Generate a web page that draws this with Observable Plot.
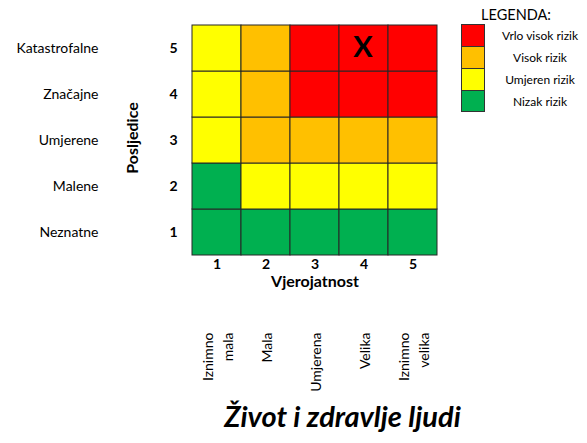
<!DOCTYPE html>
<html><head><meta charset="utf-8">
<script src="https://cdn.jsdelivr.net/npm/d3@7"></script>
<script src="https://cdn.jsdelivr.net/npm/@observablehq/plot@0.6"></script>
<style>
body{margin:0;background:#fff;font-family:Lato,"Open Sans",sans-serif;}
#wrap{position:relative;width:587px;height:443px;overflow:hidden;}
#legend{position:absolute;left:0;top:0;width:587px;height:130px;pointer-events:none;}
.lg-title{position:absolute;left:516px;top:14px;transform:translate(-50%,-50%);font-size:14.5px;color:#000;white-space:nowrap;}
.lg-sw{position:absolute;left:461px;width:24px;height:22px;border:1px solid #333;box-sizing:border-box;}
.lg-lab{position:absolute;left:540px;transform:translate(-50%,-50%);font-size:12px;color:#000;white-space:nowrap;}
</style></head><body><div id="wrap"><div id="legend"></div></div>
<script>
// Data
const likelihood = [1, 2, 3, 4, 5];
const likelihoodLabels = ["Iznimno\nmala", "Mala", "Umjerena", "Velika", "Iznimno\nvelika"];
const consequence = [1, 2, 3, 4, 5];
const consequenceLabels = ["Neznatne", "Malene", "Umjerene", "Značajne", "Katastrofalne"];
const riskLevels = ["Vrlo visok rizik", "Visok rizik", "Umjeren rizik", "Nizak rizik"];
const riskColors = ["#FF0000", "#FFC000", "#FFFF00", "#00B050"];
// risk level index (into riskLevels) for each consequence row 1..5, likelihood columns 1..5
const riskRow1 = [3, 3, 3, 3, 3];
const riskRow2 = [3, 2, 2, 2, 2];
const riskRow3 = [2, 1, 1, 1, 1];
const riskRow4 = [2, 1, 0, 0, 0];
const riskRow5 = [2, 1, 0, 0, 0];
const markerLikelihood = 4;
const markerConsequence = 5;
const xTitle = "Vjerojatnost";
const yTitle = "Posljedice";
const chartTitle = "Život i zdravlje ljudi";
const legendTitle = "LEGENDA:";

const riskRows = [riskRow1, riskRow2, riskRow3, riskRow4, riskRow5];
const cells = consequence.flatMap((c, ci) =>
  likelihood.map((l, li) => ({x: l, y: c, level: riskLevels[riskRows[ci][li]]})));

const chart = Plot.plot({
  width: 587,
  height: 443,
  marginLeft: 191,
  marginRight: 149,
  marginTop: 24,
  marginBottom: 188,
  style: {fontFamily: "Lato, 'Open Sans', sans-serif", color: "#000", background: "#fff", overflow: "visible"},
  x: {type: "band", domain: likelihood, padding: 0, axis: null},
  y: {type: "band", domain: [...consequence].reverse(), padding: 0, axis: null},
  color: {domain: riskLevels, range: riskColors},
  marks: [
    Plot.cell(cells, {x: "x", y: "y", fill: "level", stroke: "#262626", strokeWidth: 1, inset: 0}),
    Plot.text([{x: markerLikelihood, y: markerConsequence}], {x: "x", y: "y", text: () => "X", dx: -1, dy: -1, fontSize: 29, fontWeight: "bold", fill: "#000"}),
    // x tick labels
    Plot.text(likelihood, {x: d => d, text: d => String(d), frameAnchor: "bottom", textAnchor: "middle", dy: 13, fontSize: 14, fontWeight: "bold", fill: "#000"}),
    Plot.text([xTitle], {text: d => d, frameAnchor: "bottom", textAnchor: "middle", dy: 31, fontSize: 16, fontWeight: "bold", fill: "#000"}),
    // rotated likelihood names
    Plot.text(likelihood, {x: d => d, text: (d, i) => likelihoodLabels[i], frameAnchor: "bottom", dy: 77, rotate: -90, textAnchor: "end", lineAnchor: "middle", lineHeight: 1.4, fontSize: 14, fill: "#000"}),
    // y tick labels
    Plot.text(consequence, {y: d => d, text: d => String(d), frameAnchor: "left", textAnchor: "middle", dx: -18, fontSize: 14, fontWeight: "bold", fill: "#000"}),
    Plot.text(consequence, {y: d => d, text: (d, i) => consequenceLabels[i], frameAnchor: "left", dx: -93, textAnchor: "end", fontSize: 14, fill: "#000"}),
    Plot.text([yTitle], {text: d => d, frameAnchor: "left", textAnchor: "middle", dx: -59, dy: -2, rotate: -90, fontSize: 16, fontWeight: "bold", fill: "#000"}),
    // chart title
    Plot.text([chartTitle], {text: d => d, frameAnchor: "bottom", textAnchor: "middle", dx: 27.5, dy: 171, fontSize: 29, fontWeight: "bold", fontStyle: "italic", fill: "#000"})
  ]
});
const wrap = document.getElementById("wrap");
wrap.insertBefore(chart, wrap.firstChild);

// Legend
const legend = document.getElementById("legend");
const t = document.createElement("div");
t.className = "lg-title"; t.textContent = legendTitle; legend.appendChild(t);
riskLevels.forEach((lvl, i) => {
  const sw = document.createElement("div");
  sw.className = "lg-sw";
  sw.style.top = (24 + i * 22) + "px";
  sw.style.height = (i === riskLevels.length - 1 ? 22 : 23) + "px";
  sw.style.background = riskColors[i];
  legend.appendChild(sw);
  const lab = document.createElement("div");
  lab.className = "lg-lab";
  lab.style.top = (35 + i * 22) + "px";
  lab.textContent = lvl;
  legend.appendChild(lab);
});
</script>
</body></html>
